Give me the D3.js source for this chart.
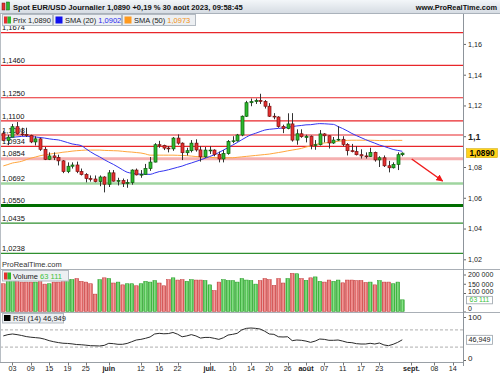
<!DOCTYPE html>
<html>
<head>
<meta charset="utf-8">
<script src="https://cdn.jsdelivr.net/npm/d3@7"></script>
<style>
  body { margin: 0; background: #fff; }
  svg { display: block; font-family: "Liberation Sans", Arial, sans-serif; }
</style>
</head>
<body>
<svg id="chart" width="500" height="375"></svg>
<script>
// ---- data (daily EUR/USD, 1 May -> 30 Aug 2023) ----
var opens = [1.1017,1.0973,1.0994,1.1062,1.1015,1.1012,1.1005,1.0963,1.0983,1.0915,
  1.0850,1.0872,1.0862,1.0840,1.0770,1.0805,1.0813,1.0771,1.0751,1.0725,
  1.0722,1.0705,1.0735,1.0688,1.0762,1.0708,1.0712,1.0693,1.0699,1.0780,
  1.0749,1.0752,1.0790,1.0832,1.0945,1.0940,1.0923,1.0918,1.0988,1.0955,
  1.0893,1.0906,1.0955,1.0911,1.0866,1.0910,1.0910,1.0882,1.0852,1.0887,
  1.0965,1.0970,1.1008,1.1130,1.1218,1.1225,1.1232,1.1226,1.1195,1.1130,
  1.1125,1.1063,1.1050,1.1080,1.0975,1.1016,1.0992,1.1000,1.0940,1.0945,
  1.1015,1.1003,1.0956,1.0975,1.0980,1.0947,1.0906,1.0900,1.0880,1.0872,
  1.0868,1.0895,1.0846,1.0860,1.0808,1.0795,1.0817,1.0880];
var highs = [1.1035,1.1009,1.1080,1.1092,1.1055,1.1055,1.1010,1.1000,1.0990,1.0930,
  1.0895,1.0895,1.0880,1.0845,1.0830,1.0830,1.0835,1.0790,1.0760,1.0745,
  1.0745,1.0745,1.0740,1.0780,1.0780,1.0730,1.0725,1.0720,1.0785,1.0790,
  1.0780,1.0820,1.0865,1.0955,1.0970,1.0945,1.0935,1.0995,1.1012,1.0960,
  1.0925,1.0975,1.0980,1.0935,1.0930,1.0935,1.0915,1.0900,1.0910,1.0975,
  1.1000,1.1015,1.1135,1.1230,1.1245,1.1245,1.1276,1.1235,1.1215,1.1150,
  1.1130,1.1075,1.1149,1.1150,1.1045,1.1045,1.1010,1.1005,1.0975,1.1040,
  1.1020,1.1005,1.0995,1.1065,1.1000,1.0955,1.0950,1.0935,1.0915,1.0895,
  1.0925,1.0900,1.0870,1.0875,1.0840,1.0830,1.0895,1.0895];
var lows = [1.0967,1.0942,1.0993,1.1010,1.1002,1.0995,1.0955,1.0940,1.0905,1.0845,
  1.0845,1.0845,1.0810,1.0760,1.0760,1.0790,1.0760,1.0745,1.0700,1.0705,
  1.0700,1.0675,1.0635,1.0670,1.0705,1.0680,1.0670,1.0665,1.0685,1.0745,
  1.0730,1.0750,1.0775,1.0830,1.0925,1.0910,1.0895,1.0905,1.0945,1.0845,
  1.0875,1.0895,1.0900,1.0835,1.0860,1.0885,1.0870,1.0830,1.0830,1.0880,
  1.0955,1.0965,1.1000,1.1125,1.1195,1.1210,1.1210,1.1180,1.1125,1.1110,
  1.1055,1.1020,1.1045,1.0965,1.0945,1.0990,1.0960,1.0915,1.0912,1.0940,
  1.0960,1.0920,1.0950,1.0970,1.0935,1.0875,1.0895,1.0875,1.0855,1.0855,
  1.0865,1.0835,1.0800,1.0800,1.0765,1.0790,1.0780,1.0870];
var closes = [1.0973,1.0994,1.1062,1.1015,1.1012,1.1005,1.0963,1.0983,1.0915,1.0850,
  1.0872,1.0862,1.0840,1.0770,1.0805,1.0813,1.0771,1.0751,1.0725,1.0722,
  1.0705,1.0735,1.0688,1.0762,1.0708,1.0712,1.0693,1.0699,1.0780,1.0749,
  1.0752,1.0790,1.0832,1.0945,1.0940,1.0923,1.0918,1.0988,1.0955,1.0893,
  1.0906,1.0955,1.0911,1.0866,1.0910,1.0910,1.0882,1.0852,1.0887,1.0965,
  1.0970,1.1008,1.1130,1.1218,1.1225,1.1232,1.1226,1.1195,1.1130,1.1125,
  1.1063,1.1050,1.1080,1.0975,1.1016,1.0997,1.1000,1.0940,1.0945,1.1015,
  1.1003,1.0956,1.0975,1.0980,1.0947,1.0906,1.0900,1.0880,1.0872,1.0868,
  1.0895,1.0846,1.0860,1.0808,1.0795,1.0817,1.0880,1.0890];
var sma20 = [1.0985,1.0989,1.0993,1.0996,1.0999,1.1000,1.0998,1.0995,1.0992,1.0988,
  1.0983,1.0979,1.0976,1.0968,1.0959,1.0950,1.0945,1.0939,1.0919,1.0899,
  1.0881,1.0866,1.0848,1.0832,1.0817,1.0800,1.0782,1.0766,1.0760,1.0755,
  1.0754,1.0753,1.0752,1.0761,1.0770,1.0775,1.0782,1.0790,1.0798,1.0806,
  1.0817,1.0826,1.0836,1.0846,1.0857,1.0868,1.0879,1.0894,1.0910,1.0926,
  1.0942,1.0959,1.0977,1.0994,1.1009,1.1019,1.1030,1.1040,1.1045,1.1048,
  1.1051,1.1054,1.1058,1.1063,1.1067,1.1070,1.1074,1.1075,1.1079,1.1082,
  1.1081,1.1079,1.1077,1.1063,1.1050,1.1035,1.1018,1.1004,1.0991,1.0978,
  1.0966,1.0955,1.0943,1.0934,1.0924,1.0914,1.0908,1.0902];
var sma50 = [1.0807,1.0816,1.0826,1.0831,1.0837,1.0848,1.0857,1.0865,1.0873,1.0879,
  1.0883,1.0888,1.0891,1.0896,1.0899,1.0903,1.0906,1.0908,1.0910,1.0910,
  1.0910,1.0910,1.0908,1.0907,1.0906,1.0905,1.0902,1.0899,1.0897,1.0894,
  1.0891,1.0885,1.0877,1.0877,1.0877,1.0877,1.0877,1.0877,1.0876,1.0875,
  1.0874,1.0871,1.0868,1.0866,1.0865,1.0863,1.0861,1.0860,1.0860,1.0860,
  1.0860,1.0863,1.0866,1.0869,1.0872,1.0875,1.0878,1.0881,1.0884,1.0889,
  1.0894,1.0899,1.0905,1.0910,1.0915,1.0921,1.0930,1.0937,1.0946,1.0952,
  1.0956,1.0960,1.0963,1.0967,1.0970,1.0973,1.0974,1.0974,1.0974,1.0974,
  1.0974,1.0973,1.0972,1.0972,1.0972,1.0973,1.0973,1.0973];
var volumes = [150000,172000,172000,172000,159000,159000,159000,159000,170000,148000,
  150000,159000,159000,167000,172000,172000,178000,163000,159000,150000,
  94000,172000,182000,178000,154000,159000,144000,150000,150000,139000,
  150000,163000,159000,167000,154000,139000,172000,182000,170000,172000,
  163000,172000,170000,170000,167000,144000,113000,159000,172000,167000,
  167000,159000,178000,170000,167000,148000,167000,178000,172000,141000,
  178000,154000,178000,206000,204000,178000,168000,182000,187000,163000,
  159000,170000,163000,170000,155000,170000,170000,167000,167000,157000,
  159000,144000,167000,159000,159000,150000,159000,63111];
var rsi14 = [56,59,60.5,59,57,54.5,53,52,51,48.5,
  45,42.5,40.5,39,38.5,37.5,36,35.5,34.5,33.3,
  33,32.6,34,38.8,38,36.5,36.5,38.5,42.5,46.5,
  48,50.4,53.5,60.5,62,61,61.5,64,60,54,
  56,59,56,51,52.5,52.5,50.4,48,51.8,58,
  59.7,62,70,73.6,74.4,73.6,72,67,60.5,59.7,
  54,53.5,54,45,46.5,45.8,44,41,44,48.8,
  48,45.8,45.8,46.5,44,41,40.3,38,37.2,37.2,
  38.8,37.2,39.5,35,33.3,36.5,41,46.949];

// horizontal support / resistance levels
var levelPrices = [1.1674, 1.1460, 1.1250, 1.1100, 1.1008, 1.0934, 1.0854, 1.0692, 1.0550, 1.0435, 1.0238];
var levelKinds  = ["res", "res", "res", "res", "res", "res", "pivot", "sup1", "supMajor", "sup", "sup"];

// bottom axis labels
var tickDates  = ["2023-05-03","2023-05-09","2023-05-15","2023-05-19","2023-05-25","2023-06-01","2023-06-12",
  "2023-06-16","2023-06-22","2023-07-03","2023-07-10","2023-07-14","2023-07-20","2023-07-26","2023-08-01",
  "2023-08-07","2023-08-11","2023-08-17","2023-08-23","2023-09-01","2023-09-08","2023-09-14"];
var tickLabels = ["03","09","15","19","25","juin","12","16","22","juil.","10","14","20","26","août",
  "07","11","17","23","sept.","08","14"];
var monthLabels = ["juin","juil.","août","sept."];

var priceTicks = [1.02, 1.04, 1.06, 1.08, 1.1, 1.12, 1.14, 1.16];
var volTicks = [0, 100000, 150000, 200000];
var rsiTicks = [0, 100];
var rsiBands = [70, 30];

// projected move drawn as a red arrow (trading-day index, price)
var arrowFrom = [89.05, 1.0852];
var arrowTo   = [95.8, 1.0709];

var titleText = "Spot EUR/USD Journalier 1,0890 +0,19 % 30 août 2023, 09:58:45";

// ---- styles ----
var levelStyle = {
  res:      { color: "#e8262a", width: 1.2 },
  pivot:    { color: "#f5b0b0", width: 3 },
  sup1:     { color: "#9fd59f", width: 2.5 },
  supMajor: { color: "#006e00", width: 3 },
  sup:      { color: "#2f8f2f", width: 1.2 }
};
var upFill = "#2db82d", upStroke = "#0c5c0c", dnFill = "#e53030", dnStroke = "#7a1010";

var loc = d3.formatLocale({ decimal: ",", thousands: " ", grouping: [3], currency: ["", "€"] });
var fmtAxis = loc.format(".2~f"), fmt4 = loc.format(".4f"), fmtVol = loc.format(","), fmt3 = loc.format(".3f");

// trading calendar (weekdays only)
var tradingDays = d3.utcDays(new Date(Date.UTC(2023, 4, 1)), new Date(Date.UTC(2023, 8, 30)))
  .filter(function(d){ var w = d.getUTCDay(); return w !== 0 && w !== 6; });
var dayKey = d3.utcFormat("%Y-%m-%d");
var dayIndex = {};
tradingDays.forEach(function(d, i){ dayIndex[dayKey(d)] = i; });

var W = 500, H = 375, axisX = 463;

var x  = d3.scaleLinear().domain([-0.72, 100.24]).range([0, axisX]);
var y  = d3.scaleLinear().domain([1.0137, 1.1801]).range([269, 13]);
var yv = d3.scaleLinear().domain([0, 200000]).range([311.5, 274.5]);
var yr = d3.scaleLinear().domain([0, 100]).range([360, 317]);

var svg = d3.select("#chart");
var defs = svg.append("defs");

defs.append("clipPath").attr("id", "clipPrice")
  .append("rect").attr("x", 0).attr("y", 13).attr("width", axisX).attr("height", 256);

function hGrad(id, edge, mid){
  var g = defs.append("linearGradient").attr("id", id).attr("x1", "0").attr("x2", "1").attr("y1", "0").attr("y2", "0");
  g.append("stop").attr("offset", "0").attr("stop-color", edge);
  g.append("stop").attr("offset", "0.5").attr("stop-color", mid);
  g.append("stop").attr("offset", "1").attr("stop-color", edge);
}
hGrad("volUp", "#2fae2f", "#8fe48f");
hGrad("volDn", "#d44646", "#f6a4a4");

var head = defs.append("linearGradient").attr("id", "headGrad").attr("x1", "0").attr("x2", "0").attr("y1", "0").attr("y2", "1");
head.append("stop").attr("offset", "0").attr("stop-color", "#f3f6f9");
head.append("stop").attr("offset", "1").attr("stop-color", "#d6dce3");

svg.append("rect").attr("width", W).attr("height", H).attr("fill", "#fff");

// ---- price panel ----
var pg = svg.append("g").attr("clip-path", "url(#clipPrice)");

var levels = levelPrices.map(function(p, i){ return { p: p, kind: levelKinds[i] }; });

pg.selectAll("text.lvl").data(levels).enter().append("text")
  .attr("class", "lvl")
  .attr("x", 2).attr("y", function(d){ return y(d.p) - 2.2; })
  .attr("font-size", 7.5).attr("fill", "#111")
  .text(function(d){ return fmt4(d.p); });

pg.selectAll("line.lvl").data(levels).enter().append("line")
  .attr("class", "lvl")
  .attr("x1", 0).attr("x2", axisX)
  .attr("y1", function(d){ return y(d.p); }).attr("y2", function(d){ return y(d.p); })
  .attr("stroke", function(d){ return levelStyle[d.kind].color; })
  .attr("stroke-width", function(d){ return levelStyle[d.kind].width; });

var smaLine = d3.line().x(function(d, i){ return x(i); }).y(function(d){ return y(d); }).curve(d3.curveMonotoneX);

pg.append("path").datum(sma50).attr("d", smaLine)
  .attr("fill", "none").attr("stroke", "#ffa63c").attr("stroke-width", 1);
pg.append("path").datum(sma20).attr("d", smaLine)
  .attr("fill", "none").attr("stroke", "#3434f0").attr("stroke-width", 1);

var candles = opens.map(function(o, i){
  return { i: i, o: o, h: highs[i], l: lows[i], c: closes[i], up: closes[i] >= o };
});

pg.selectAll("line.wick").data(candles).enter().append("line")
  .attr("class", "wick")
  .attr("x1", function(d){ return Math.round(x(d.i)) + 0.5; })
  .attr("x2", function(d){ return Math.round(x(d.i)) + 0.5; })
  .attr("y1", function(d){ return y(d.h); })
  .attr("y2", function(d){ return y(d.l); })
  .attr("stroke", "#333").attr("stroke-width", 1);

pg.selectAll("rect.body").data(candles).enter().append("rect")
  .attr("class", "body")
  .attr("x", function(d){ return Math.round(x(d.i)) - 1; })
  .attr("width", 3)
  .attr("y", function(d){ return y(Math.max(d.o, d.c)); })
  .attr("height", function(d){ return Math.max(0.8, Math.abs(y(d.o) - y(d.c))); })
  .attr("fill", function(d){ return d.up ? upFill : dnFill; })
  .attr("stroke", function(d){ return d.up ? upStroke : dnStroke; })
  .attr("stroke-width", 0.7);

// arrow
defs.append("marker").attr("id", "arrowHead")
  .attr("viewBox", "0 0 10 10").attr("refX", 9).attr("refY", 5)
  .attr("markerWidth", 7).attr("markerHeight", 7).attr("markerUnits", "userSpaceOnUse")
  .attr("orient", "auto")
  .append("path").attr("d", "M0,0 L10,5 L0,10 Z").attr("fill", "#f01c1c");

pg.append("line")
  .attr("x1", x(arrowFrom[0])).attr("y1", y(arrowFrom[1]))
  .attr("x2", x(arrowTo[0])).attr("y2", y(arrowTo[1]))
  .attr("stroke", "#f01c1c").attr("stroke-width", 1.5)
  .attr("marker-end", "url(#arrowHead)");

svg.append("text").attr("x", 2).attr("y", 267).attr("font-size", 7.5).attr("fill", "#333")
  .text("ProRealTime.com");

// ---- header & legend ----
svg.append("rect").attr("x", 0).attr("y", 0).attr("width", W).attr("height", 13).attr("fill", "url(#headGrad)");
svg.append("line").attr("x1", 0).attr("x2", W).attr("y1", 13.5).attr("y2", 13.5).attr("stroke", "#aab2bb");
svg.append("rect").attr("x", 2).attr("y", 3).attr("width", 3).attr("height", 7).attr("fill", dnFill).attr("stroke", dnStroke).attr("stroke-width", 0.5);
svg.append("rect").attr("x", 6.5).attr("y", 2).attr("width", 3).attr("height", 8).attr("fill", upFill).attr("stroke", upStroke).attr("stroke-width", 0.5);
svg.append("text").attr("x", 13).attr("y", 9.5).attr("font-size", 7.6).attr("font-weight", "bold").attr("fill", "#111")
  .text(titleText);
svg.append("text").attr("x", 497).attr("y", 9.5).attr("font-size", 7.4).attr("font-weight", "bold").attr("fill", "#111")
  .attr("text-anchor", "end").text("www.ProRealTime.com");

function legendBox(g, x0, w, y0, h){
  g.append("rect").attr("x", x0 + 0.5).attr("y", y0 + 0.5).attr("width", w).attr("height", h)
    .attr("fill", "#eceff2").attr("stroke", "#b3bac2").attr("stroke-width", 1);
}
var lg = svg.append("g");
legendBox(lg, 2, 50, 14, 11);
lg.append("rect").attr("x", 4).attr("y", 16.5).attr("width", 3.5).attr("height", 7).attr("fill", dnFill);
lg.append("rect").attr("x", 7.5).attr("y", 16.5).attr("width", 3.5).attr("height", 7).attr("fill", upFill);
lg.append("text").attr("x", 13).attr("y", 22.8).attr("font-size", 7.5).attr("fill", "#222")
  .text("Prix " + fmt4(closes[closes.length - 1]));

legendBox(lg, 53, 68, 14, 11);
lg.append("rect").attr("x", 55.5).attr("y", 16.5).attr("width", 7).attr("height", 7).attr("fill", "#1010ee");
var t2 = lg.append("text").attr("x", 65).attr("y", 22.8).attr("font-size", 7.5).attr("fill", "#222");
t2.append("tspan").text("SMA (20) ");
t2.append("tspan").attr("fill", "#2a2af0").text(fmt4(sma20[sma20.length - 1]));

legendBox(lg, 122, 73, 14, 11);
lg.append("rect").attr("x", 124.5).attr("y", 16.5).attr("width", 7).attr("height", 7).attr("fill", "#ff9a1e");
var t3 = lg.append("text").attr("x", 134).attr("y", 22.8).attr("font-size", 7.5).attr("fill", "#222");
t3.append("tspan").text("SMA (50) ");
t3.append("tspan").attr("fill", "#f39214").text(fmt4(sma50[sma50.length - 1]));

// ---- price axis ----
var pax = svg.append("g").attr("transform", "translate(" + axisX + ",0)")
  .call(d3.axisRight(y).tickValues(priceTicks).tickSize(3).tickFormat(fmtAxis));
pax.select(".domain").remove();
pax.selectAll(".tick line").attr("stroke", "#666");
pax.selectAll(".tick text").attr("font-size", 7.2).attr("fill", "#222").attr("x", 5)
  .attr("font-family", "'Liberation Sans', Arial, sans-serif");
pax.selectAll(".tick text").filter(function(d){ return d === 1.1; })
  .attr("font-size", 9).attr("font-weight", "bold");

var lastClose = closes[closes.length - 1];
svg.append("rect").attr("x", 466.5).attr("y", y(lastClose) - 4.5).attr("width", 31).attr("height", 9)
  .attr("fill", "#ffd21a").attr("stroke", "#c9a400").attr("stroke-width", 0.5);
svg.append("text").attr("x", 482).attr("y", y(lastClose) + 3).attr("text-anchor", "middle")
  .attr("font-size", 8.2).attr("font-weight", "bold").attr("fill", "#000").text(fmt4(lastClose));

// ---- volume panel ----
svg.append("line").attr("x1", 0).attr("x2", W).attr("y1", 269.5).attr("y2", 269.5).attr("stroke", "#a9afb6");

var vg = svg.append("g");
vg.selectAll("rect.vol").data(candles).enter().append("rect")
  .attr("class", "vol")
  .attr("x", function(d){ return x(d.i) - 1.7; })
  .attr("width", 3.6)
  .attr("y", function(d){ return yv(volumes[d.i]); })
  .attr("height", function(d){ return yv(0) - yv(volumes[d.i]); })
  .attr("fill", function(d){ return d.up ? "url(#volUp)" : "url(#volDn)"; })
  .attr("stroke", function(d){ return d.up ? "#229a22" : "#c23a3a"; })
  .attr("stroke-width", 0.5);

legendBox(vg, 2, 66, 270, 10.5);
vg.append("rect").attr("x", 4).attr("y", 272.5).attr("width", 3.5).attr("height", 7).attr("fill", dnFill);
vg.append("rect").attr("x", 7.5).attr("y", 272.5).attr("width", 3.5).attr("height", 7).attr("fill", upFill);
var tv = vg.append("text").attr("x", 13).attr("y", 278.6).attr("font-size", 7.5).attr("fill", "#222");
tv.append("tspan").text("Volume ");
tv.append("tspan").attr("fill", "#3cc23c").text(fmtVol(volumes[volumes.length - 1]));

var vax = svg.append("g").attr("transform", "translate(" + axisX + ",0)")
  .call(d3.axisRight(yv).tickValues(volTicks).tickSize(3).tickFormat(fmtVol));
vax.select(".domain").remove();
vax.selectAll(".tick line").attr("stroke", "#666");
vax.selectAll(".tick text").attr("font-size", 7).attr("fill", "#222").attr("x", 5)
  .attr("font-family", "'Liberation Sans', Arial, sans-serif");
vax.selectAll(".tick text").filter(function(d){ return d === 100000; }).attr("dy", "0.05em");
vax.selectAll(".tick text").filter(function(d){ return d === 0; }).attr("dy", "-0.18em");

var lastVol = volumes[volumes.length - 1];
svg.append("rect").attr("x", 466.5).attr("y", yv(lastVol) - 3.5).attr("width", 26).attr("height", 7.5)
  .attr("fill", "#fff").attr("stroke", "#9aa2aa").attr("stroke-width", 0.8);
svg.append("text").attr("x", 479.5).attr("y", yv(lastVol) + 2.6).attr("text-anchor", "middle")
  .attr("font-size", 6.8).attr("fill", "#3cc23c").text(fmtVol(lastVol));

// ---- RSI panel ----
svg.append("line").attr("x1", 0).attr("x2", W).attr("y1", 312.5).attr("y2", 312.5).attr("stroke", "#a9afb6");

var rg = svg.append("g");
rg.selectAll("line.band").data(rsiBands).enter().append("line")
  .attr("x1", 0).attr("x2", axisX)
  .attr("y1", function(d){ return yr(d); }).attr("y2", function(d){ return yr(d); })
  .attr("stroke", "#9a9a9a").attr("stroke-width", 0.8).attr("stroke-dasharray", "3,2");

rg.append("path").datum(rsi14)
  .attr("d", d3.line().x(function(d, i){ return x(i); }).y(function(d){ return yr(d); }))
  .attr("fill", "none").attr("stroke", "#2a2a2a").attr("stroke-width", 1);

legendBox(rg, 2, 61, 313, 9.5);
rg.append("rect").attr("x", 4).attr("y", 315).attr("width", 6.5).attr("height", 6).attr("fill", "#000");
rg.append("text").attr("x", 13).attr("y", 320.8).attr("font-size", 7.5).attr("fill", "#222")
  .text("RSI (14) " + fmt3(rsi14[rsi14.length - 1]));

var rax = svg.append("g").attr("transform", "translate(" + axisX + ",0)")
  .call(d3.axisRight(yr).tickValues(rsiTicks).tickSize(3).tickFormat(d3.format("d")));
rax.select(".domain").remove();
rax.selectAll(".tick line").attr("stroke", "#666");
rax.selectAll(".tick text").attr("font-size", 8).attr("fill", "#222").attr("x", 5)
  .attr("font-family", "'Liberation Sans', Arial, sans-serif");
rax.selectAll(".tick text").filter(function(d){ return d === 0; }).attr("dy", "0.0em");

var lastRsi = rsi14[rsi14.length - 1];
svg.append("rect").attr("x", 466.5).attr("y", yr(lastRsi) - 4.5).attr("width", 26).attr("height", 9)
  .attr("fill", "#fff").attr("stroke", "#9aa2aa").attr("stroke-width", 0.8);
svg.append("text").attr("x", 479.5).attr("y", yr(lastRsi) + 2.6).attr("text-anchor", "middle")
  .attr("font-size", 7.2).attr("fill", "#222").text(fmt3(lastRsi));

// ---- time axis ----
var ticks = tickDates.map(function(d, i){ return { i: dayIndex[d], label: tickLabels[i] }; });
svg.append("line").attr("x1", 0).attr("x2", axisX).attr("y1", 362.5).attr("y2", 362.5).attr("stroke", "#9aa0a6");
var xg = svg.append("g");
xg.selectAll("line").data(ticks).enter().append("line")
  .attr("x1", function(d){ return Math.round(x(d.i)) + 0.5; })
  .attr("x2", function(d){ return Math.round(x(d.i)) + 0.5; })
  .attr("y1", 362.5).attr("y2", 365.5).attr("stroke", "#777");
xg.selectAll("text").data(ticks).enter().append("text")
  .attr("x", function(d){ return x(d.i); }).attr("y", 370.5)
  .attr("text-anchor", "middle").attr("font-size", 7.2).attr("fill", "#222")
  .attr("font-weight", function(d){ return monthLabels.indexOf(d.label) >= 0 ? "bold" : "normal"; })
  .text(function(d){ return d.label; });

// frame: right axis line and left edge
svg.append("line").attr("x1", axisX + 0.5).attr("x2", axisX + 0.5).attr("y1", 14).attr("y2", 366).attr("stroke", "#8d949b");
svg.append("line").attr("x1", 0.5).attr("x2", 0.5).attr("y1", 14).attr("y2", 362).attr("stroke", "#b8bec4");
</script>
</body>
</html>
